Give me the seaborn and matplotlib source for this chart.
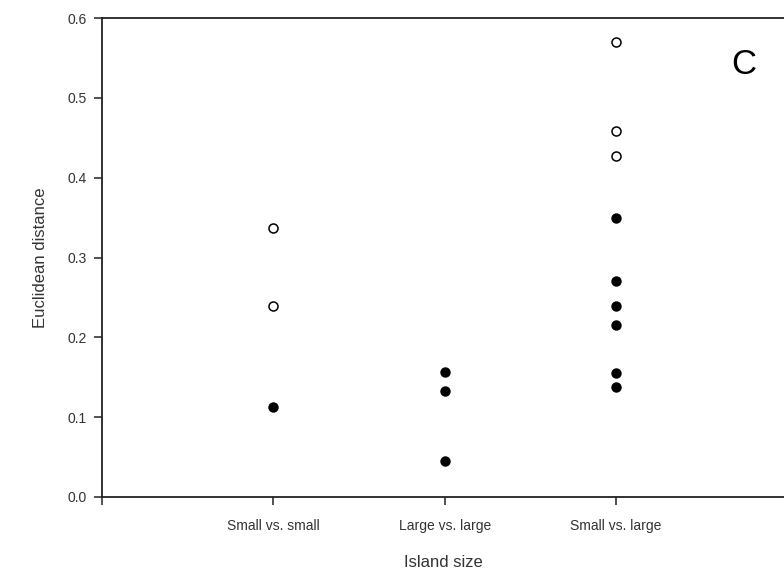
import pandas as pd
import seaborn as sns
import matplotlib.pyplot as plt

groups = ['Small vs. small', 'Large vs. large', 'Small vs. large']
open_group = ['Small vs. small', 'Small vs. small',
              'Small vs. large', 'Small vs. large', 'Small vs. large']
open_vals = [0.337, 0.239, 0.570, 0.459, 0.427]
filled_group = ['Small vs. small',
                'Large vs. large', 'Large vs. large', 'Large vs. large',
                'Small vs. large', 'Small vs. large', 'Small vs. large',
                'Small vs. large', 'Small vs. large', 'Small vs. large']
filled_vals = [0.113, 0.157, 0.133, 0.045,
               0.350, 0.270, 0.239, 0.216, 0.155, 0.138]
yticks = [0.0, 0.1, 0.2, 0.3, 0.4, 0.5, 0.6]

sns.set_style('ticks')
plt.rcParams['font.family'] = ['Liberation Sans', 'DejaVu Sans']

df_open = pd.DataFrame({'group': open_group, 'dist': open_vals})
df_fill = pd.DataFrame({'group': filled_group, 'dist': filled_vals})

fig = plt.figure(figsize=(7.84, 5.81), dpi=100)
ax = fig.add_axes([102/784, 84/581, 1 - 102/784, 479/581])

sns.stripplot(data=df_fill, x='group', y='dist', order=groups, jitter=False,
              color='black', size=7.5, linewidth=0, ax=ax)
sns.stripplot(data=df_open, x='group', y='dist', order=groups, jitter=False,
              color='white', edgecolor='black', linewidth=1.1, size=6.5, ax=ax)

ax.set_xlim(-1, 2.98)
ax.set_ylim(0, 0.6)
ax.set_yticks(yticks)
ax.set_yticklabels([f'{v:.1f}' for v in yticks])
ax.set_xticks([-1, 0, 1, 2])
ax.set_xticklabels([''] + groups)
ax.spines['right'].set_visible(False)
for s in ['left', 'bottom', 'top']:
    ax.spines[s].set_color('#222222')
    ax.spines[s].set_linewidth(1.3)
ax.tick_params(axis='both', direction='out', length=6, width=1.1,
               color='#222222', labelsize=10, labelcolor='#333333', pad=5)
ax.tick_params(axis='x', pad=10)

ax.set_xlabel('Island size', fontsize=12, color='#333333', labelpad=16)
ax.set_ylabel('Euclidean distance', fontsize=12, color='#333333', labelpad=14)

ax.text(0.941, 0.902, 'C', transform=ax.transAxes, fontsize=25,
        ha='center', va='center', color='black')

fig.savefig('out.png', dpi=100)
